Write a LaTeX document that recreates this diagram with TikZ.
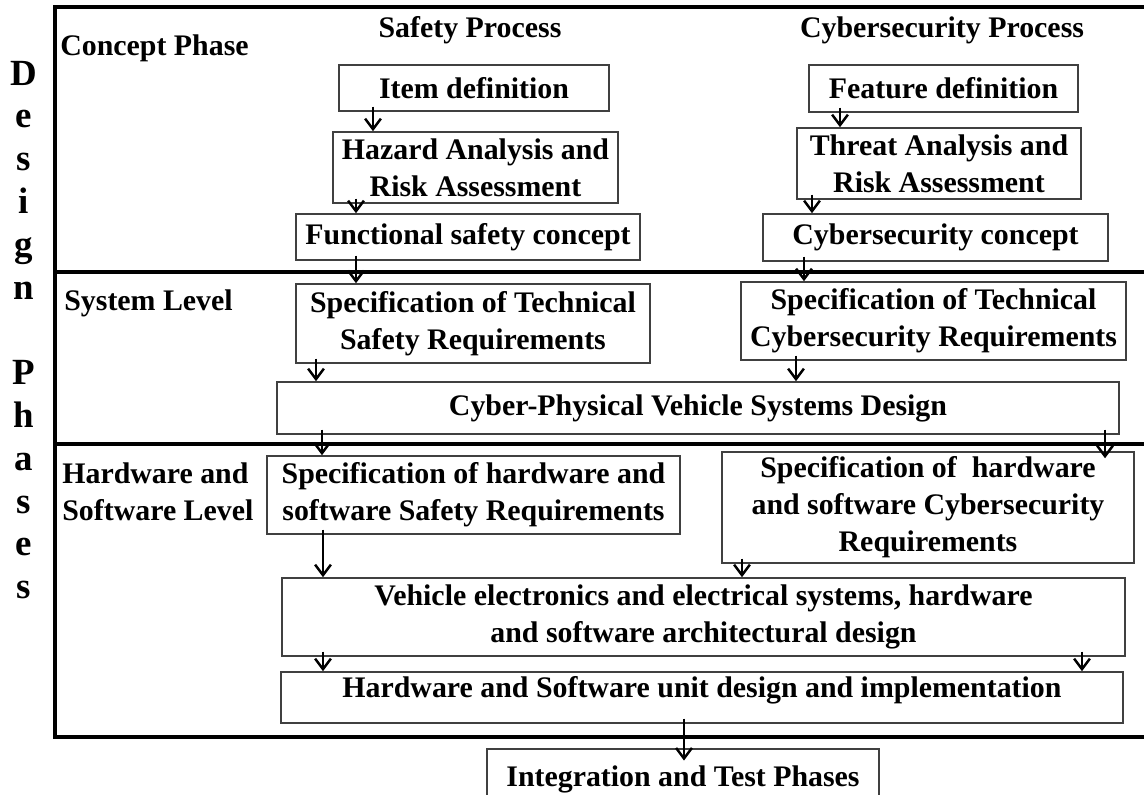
\documentclass[tikz,border=0pt]{standalone}
\usepackage{fontspec}
\setmainfont{Liberation Serif}
\usetikzlibrary{arrows.meta}
\begin{document}
\begin{tikzpicture}[x=0.02cm,y=-0.02cm,
    font=\fontsize{17}{21}\selectfont\bfseries,
    box/.style={draw=black!75,line width=0.9pt,inner sep=0pt,align=center},
    arr/.style={line width=1.4pt,-{Straight Barb[length=6pt,width=9pt,line width=1.4pt]},shorten <=-3pt},
    frame/.style={line width=1.8pt}]
    \clip (0,0) rectangle (1144,795);
    % frame and phase separators
    \draw[frame] (1144,7) -- (55,7) -- (55,737) -- (1144,737);
    \draw[frame] (55,272) -- (1144,272) (55,444) -- (1144,444);
    \foreach \ch/\k in {D/0,e/1,s/2,i/3,g/4,n/5,P/7,h/8,a/9,s/10,e/11,s/12}
      \node[anchor=base,font=\fontsize{21}{24}\selectfont\bfseries] (d\k) at (24,85+42.8*\k) {\ch};
    \node (safety) at (470,30) {Safety Process};
    \node (cyber) at (942,30) {Cybersecurity Process};
    \node[anchor=west,inner sep=0pt] (concept) at (60,48) {Concept Phase};
    \node[anchor=west,inner sep=0pt] (system) at (64,303) {System Level};
    \node[anchor=west,inner sep=0pt,align=left] (hwsw) at (62,492) {Hardware and\\Software Level};

    \node[box,minimum width=5.4cm,minimum height=0.92cm] (item) at (474,88) {Item definition};
    \node[box,minimum width=5.7cm,minimum height=1.42cm] (haz) at (475.5,167.5) {Hazard Analysis and\\Risk Assessment};
    \node[box,minimum width=6.88cm,minimum height=0.92cm] (fsc) at (468,237) {Functional safety concept};
    \node[box,minimum width=5.38cm,minimum height=0.94cm] (feat) at (943.5,88.5) {Feature definition};
    \node[box,minimum width=5.68cm,minimum height=1.42cm] (tara) at (939,163.5) {Threat Analysis and\\Risk Assessment};
    \node[box,minimum width=6.9cm,minimum height=0.94cm] (csc) at (935.5,237.5) {Cybersecurity concept};
    \node[box,minimum width=7.08cm,minimum height=1.58cm] (tsr) at (473,323.5) {Specification of Technical\\Safety Requirements};
    \node[box,minimum width=7.7cm,minimum height=1.56cm] (tcr) at (933.5,321) {Specification of Technical\\Cybersecurity Requirements};
    \node[box,minimum width=16.84cm,minimum height=1.04cm] (cpv) at (698,408) {Cyber-Physical Vehicle Systems Design};
    \node[box,minimum width=8.26cm,minimum height=1.56cm] (hwsr) at (473.5,495) {Specification of hardware and\\software Safety Requirements};
    \node[box,minimum width=8.24cm,minimum height=2.22cm] (hwcr) at (928,507.5) {Specification of\ \ hardware\\and software Cybersecurity\\Requirements};
    \node[box,minimum width=16.86cm,minimum height=1.56cm] (ve) at (703.5,617) {Vehicle electronics and electrical systems, hardware\\and software architectural design};
    \node[box,minimum width=16.84cm,minimum height=1.02cm,text depth=12pt] (unit) at (702,697.5) {Hardware and Software unit design and implementation};
    \node[box,minimum width=7.84cm,minimum height=1.2cm] (integ) at (683,779) {Integration and Test Phases};

    \draw[arr] (item.south -| 373,0) -- (haz.north -| 373,0);
    \draw[arr] (haz.south -| 356,0) -- (fsc.north -| 356,0);
    \draw[arr] (fsc.south -| 356,0) -- (tsr.north -| 356,0);
    \draw[arr] (feat.south -| 840,0) -- (tara.north -| 840,0);
    \draw[arr] (tara.south -| 812,0) -- (csc.north -| 812,0);
    \draw[arr] (csc.south -| 804,0) -- (tcr.north -| 804,0);
    \draw[arr] (tsr.south -| 316,0) -- (cpv.north -| 316,0);
    \draw[arr] (tcr.south -| 796,0) -- (cpv.north -| 796,0);
    \draw[arr] (cpv.south -| 322,0) -- (hwsr.north -| 322,0);
    \draw[arr,shorten >=-4pt] (cpv.south -| 1105,0) -- (hwcr.north -| 1105,0);
    \draw[arr] (hwsr.south -| 323,0) -- (ve.north -| 323,0);
    \draw[arr] (hwcr.south -| 742,0) -- (ve.north -| 742,0);
    \draw[arr] (ve.south -| 323,0) -- (unit.north -| 323,0);
    \draw[arr] (ve.south -| 1082,0) -- (unit.north -| 1082,0);
    \draw[arr,line width=1.7pt,shorten >=-7pt] (unit.south -| 684,0) -- (integ.north -| 684,0);
\end{tikzpicture}
\end{document}
